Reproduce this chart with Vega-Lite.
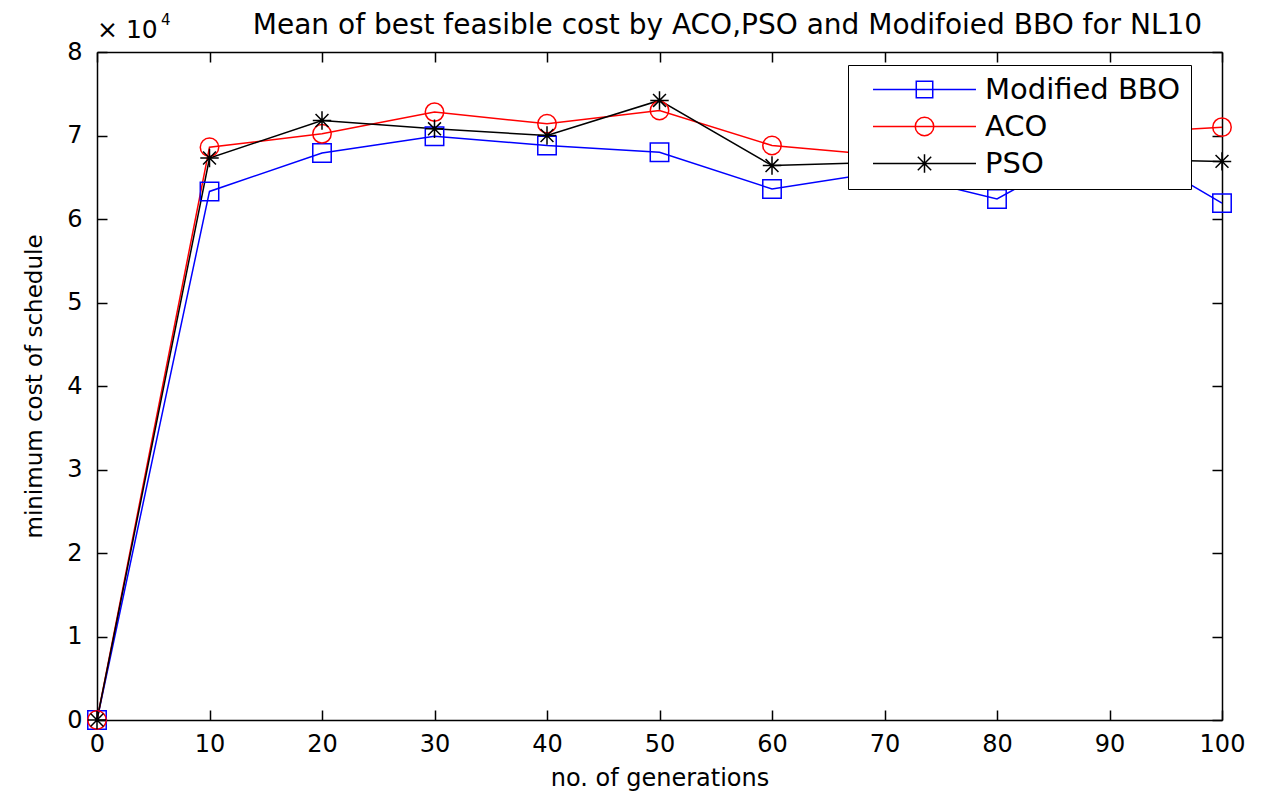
{
  "$schema": "https://vega.github.io/schema/vega-lite/v6.json",
  "width": 1125,
  "height": 668,
  "autosize": {"type": "none"},
  "padding": {"left": 97, "top": 52, "right": 43, "bottom": 75},
  "background": "white",
  "title": {
    "text": "Mean of best feasible cost by ACO,PSO and Modifoied BBO for NL10",
    "font": "DejaVu Sans",
    "fontSize": 28,
    "fontWeight": "normal",
    "color": "black",
    "anchor": "middle",
    "frame": "group",
    "dx": 68,
    "offset": -27
  },
  "data": {
    "values": [
      {"algorithm": "Modified BBO", "generation": 0, "cost": 0},
      {"algorithm": "Modified BBO", "generation": 10, "cost": 63300},
      {"algorithm": "Modified BBO", "generation": 20, "cost": 67900},
      {"algorithm": "Modified BBO", "generation": 30, "cost": 69900},
      {"algorithm": "Modified BBO", "generation": 40, "cost": 68800},
      {"algorithm": "Modified BBO", "generation": 50, "cost": 68000},
      {"algorithm": "Modified BBO", "generation": 60, "cost": 63600},
      {"algorithm": "Modified BBO", "generation": 70, "cost": 65700},
      {"algorithm": "Modified BBO", "generation": 80, "cost": 62400},
      {"algorithm": "Modified BBO", "generation": 90, "cost": 69800},
      {"algorithm": "Modified BBO", "generation": 100, "cost": 61900},
      {"algorithm": "ACO", "generation": 0, "cost": 0},
      {"algorithm": "ACO", "generation": 10, "cost": 68600},
      {"algorithm": "ACO", "generation": 20, "cost": 70200},
      {"algorithm": "ACO", "generation": 30, "cost": 72800},
      {"algorithm": "ACO", "generation": 40, "cost": 71400},
      {"algorithm": "ACO", "generation": 50, "cost": 73000},
      {"algorithm": "ACO", "generation": 60, "cost": 68800},
      {"algorithm": "ACO", "generation": 70, "cost": 67600},
      {"algorithm": "ACO", "generation": 80, "cost": 68000},
      {"algorithm": "ACO", "generation": 90, "cost": 70200},
      {"algorithm": "ACO", "generation": 100, "cost": 71000},
      {"algorithm": "PSO", "generation": 0, "cost": 0},
      {"algorithm": "PSO", "generation": 10, "cost": 67300},
      {"algorithm": "PSO", "generation": 20, "cost": 71800},
      {"algorithm": "PSO", "generation": 30, "cost": 70800},
      {"algorithm": "PSO", "generation": 40, "cost": 70000},
      {"algorithm": "PSO", "generation": 50, "cost": 74200},
      {"algorithm": "PSO", "generation": 60, "cost": 66400},
      {"algorithm": "PSO", "generation": 70, "cost": 66800},
      {"algorithm": "PSO", "generation": 80, "cost": 67000},
      {"algorithm": "PSO", "generation": 90, "cost": 67200},
      {"algorithm": "PSO", "generation": 100, "cost": 66900}
    ]
  },
  "layer": [
    {
      "mark": {"type": "line", "strokeWidth": 1.5},
      "encoding": {
        "x": {
          "field": "generation", "type": "quantitative",
          "scale": {"domain": [0, 100], "nice": false, "zero": false},
          "axis": {
            "orient": "bottom",
            "values": [0, 10, 20, 30, 40, 50, 60, 70, 80, 90, 100],
            "title": "no. of generations",
            "labelPadding": 22,
            "titlePadding": 10,
            "titleFontSize": 24
          }
        },
        "y": {
          "field": "cost", "type": "quantitative",
          "scale": {"domain": [0, 80000], "nice": false},
          "axis": {
            "orient": "left",
            "values": [0, 10000, 20000, 30000, 40000, 50000, 60000, 70000, 80000],
            "labelExpr": "datum.value / 10000",
            "title": "minimum cost of schedule",
            "labelPadding": 25,
            "titlePadding": 20,
            "titleFontSize": 23
          }
        },
        "stroke": {
          "field": "algorithm", "type": "nominal",
          "scale": {"domain": ["Modified BBO", "ACO", "PSO"], "range": ["#0000ff", "#ff0000", "#000000"]},
          "legend": null
        }
      }
    },
    {
      "mark": {"type": "point", "filled": false, "strokeWidth": 1.5, "size": 340, "opacity": 1},
      "encoding": {
        "x": {
          "field": "generation", "type": "quantitative",
          "axis": {"orient": "top", "values": [0, 10, 20, 30, 40, 50, 60, 70, 80, 90, 100], "labels": false, "title": null}
        },
        "y": {
          "field": "cost", "type": "quantitative",
          "axis": {"orient": "right", "values": [0, 10000, 20000, 30000, 40000, 50000, 60000, 70000, 80000], "labels": false, "title": null}
        },
        "stroke": {
          "field": "algorithm", "type": "nominal",
          "legend": null
        },
        "shape": {
          "field": "algorithm", "type": "nominal",
          "scale": {"domain": ["Modified BBO", "ACO", "PSO"], "range": ["square", "circle", "M -1 0 L 1 0 M 0 -1 L 0 1 M -0.7 -0.7 L 0.7 0.7 M -0.7 0.7 L 0.7 -0.7"]},
          "legend": null
        }
      }
    },
    {
      "data": {"values": []},
      "mark": {"type": "point", "filled": false, "strokeWidth": 1.5, "size": 424, "opacity": 1},
      "encoding": {
        "x": {"field": "generation", "type": "quantitative", "axis": null},
        "y": {"field": "cost", "type": "quantitative", "axis": null},
        "color": {
          "field": "algorithm", "type": "nominal",
          "scale": {"domain": ["Modified BBO", "ACO", "PSO"], "range": ["#0000ff", "#ff0000", "#000000"]},
          "legend": {"title": null}
        },
        "shape": {
          "field": "algorithm", "type": "nominal",
          "scale": {"domain": ["Modified BBO", "ACO", "PSO"], "range": [
            "M -5 0 L 5 0 M -0.8 -0.8 L 0.8 -0.8 L 0.8 0.8 L -0.8 0.8 Z",
            "M -5 0 L 5 0 M 0.9 0 C 0.9 0.497 0.497 0.9 0 0.9 C -0.497 0.9 -0.9 0.497 -0.9 0 C -0.9 -0.497 -0.497 -0.9 0 -0.9 C 0.497 -0.9 0.9 -0.497 0.9 0 Z",
            "M -5 0 L 5 0 M 0 -0.9 L 0 0.9 M -0.65 -0.65 L 0.65 0.65 M -0.65 0.65 L 0.65 -0.65"
          ]},
          "legend": {"title": null}
        }
      }
    },
    {
      "data": {"values": [{"generation": 0, "cost": 80000, "note": "× 10"}]},
      "mark": {"type": "text", "align": "left", "baseline": "alphabetic", "dy": -14, "fontSize": 25, "font": "DejaVu Sans", "color": "black"},
      "encoding": {
        "x": {"field": "generation", "type": "quantitative", "axis": null},
        "y": {"field": "cost", "type": "quantitative", "axis": null},
        "text": {"field": "note"}
      }
    },
    {
      "data": {"values": [{"generation": 0, "cost": 80000, "note": "4"}]},
      "mark": {"type": "text", "align": "left", "baseline": "alphabetic", "dx": 64, "dy": -27, "fontSize": 15, "font": "DejaVu Sans", "color": "black"},
      "encoding": {
        "x": {"field": "generation", "type": "quantitative", "axis": null},
        "y": {"field": "cost", "type": "quantitative", "axis": null},
        "text": {"field": "note"}
      }
    }
  ],
  "resolve": {"axis": {"x": "independent", "y": "independent"}, "scale": {"shape": "independent", "color": "independent"}},
  "config": {
    "view": {"stroke": null},
    "axis": {
      "grid": false,
      "domain": true,
      "domainColor": "black",
      "domainWidth": 1.5,
      "ticks": true,
      "tickColor": "black",
      "tickWidth": 1.5,
      "tickSize": -10,
      "labelFont": "DejaVu Sans",
      "labelFontSize": 24,
      "labelColor": "black",
      "labelOverlap": false,
      "labelFlush": false,
      "titleFont": "DejaVu Sans",
      "titleFontWeight": "normal",
      "titleColor": "black"
    },
    "legend": {
      "orient": "none",
      "legendX": 751,
      "legendY": 13,
      "fillColor": "white",
      "strokeColor": "black",
      "padding": 10,
      "symbolSize": 424,
      "symbolStrokeWidth": 1.5,
      "symbolOffset": 52,
      "labelOffset": 46,
      "labelFont": "DejaVu Sans",
      "labelFontSize": 29,
      "labelColor": "black",
      "labelLimit": 500,
      "rowPadding": 7
    }
  }
}
